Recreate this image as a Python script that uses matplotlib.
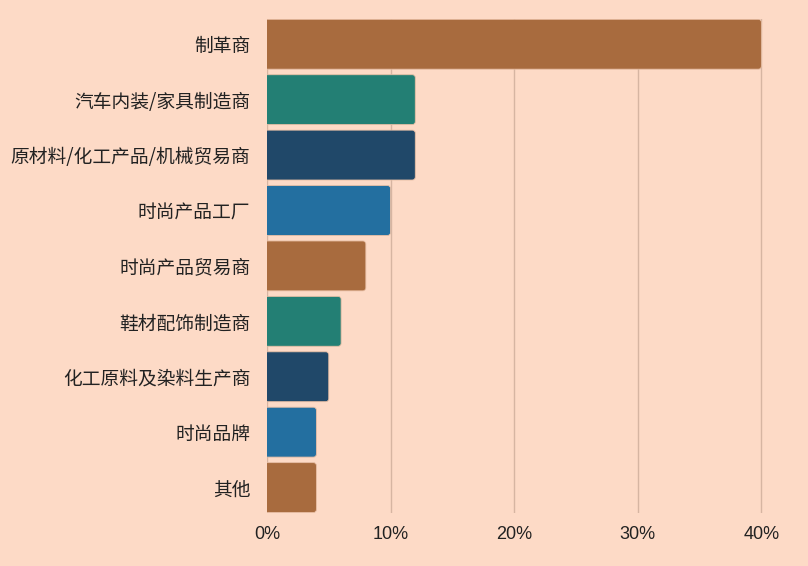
import matplotlib as mpl
mpl.use("Agg")
import numpy as np
from matplotlib import pyplot as plt
from matplotlib.patches import FancyBboxPatch
from matplotlib.ticker import FuncFormatter

plt.rcParams['font.family'] = ['Noto Sans CJK SC', 'DejaVu Sans']

categories = ['制革商', '汽车内装/家具制造商', '原材料/化工产品/机械贸易商', '时尚产品工厂',
              '时尚产品贸易商', '鞋材配饰制造商', '化工原料及染料生产商', '时尚品牌', '其他']
shares = [40, 12, 12, 10, 8, 6, 5, 4, 4]
palette = ['#A86B3E', '#237F74', '#204869', '#236FA0']

bg = '#FDDAC6'
fig = plt.figure(figsize=(8.08, 5.66), dpi=100, facecolor=bg)
ax = fig.add_axes([0.3304, 0.0945, 0.6425, 0.8714], facecolor=bg)

bar_h = 0.9
ax.set_ylim(len(categories) - 0.5 - (1 - bar_h) / 2, -0.5 + (1 - bar_h) / 2)
ax.set_xlim(0, 42)

# rounded bars: radius ~3px, y scaled to keep corners circular
x_px = ax.get_window_extent().width / 42
y_px = ax.get_window_extent().height / (len(categories) - (1 - bar_h))
r = 3 / x_px
for i, v in enumerate(shares):
    p = FancyBboxPatch((-r, i - bar_h / 2), v + r, bar_h,
                       boxstyle=f"round,pad=0,rounding_size={r}",
                       mutation_aspect=x_px / y_px,
                       facecolor=palette[i % 4], edgecolor='#E8BFA5',
                       linewidth=0.6, zorder=2)
    ax.add_patch(p)

ax.set_yticks(np.arange(len(categories)))
ax.set_yticklabels(categories, fontsize=13.5, color='#222222')
ax.set_xticks([0, 10, 20, 30, 40])
ax.xaxis.set_major_formatter(FuncFormatter(lambda v, p: f'{v:.0f}%'))
for t in ax.get_xticklabels():
    t.set_family(['Liberation Sans', 'DejaVu Sans'])
ax.tick_params(axis='x', labelsize=13, colors='#222222', length=0, pad=10)
ax.tick_params(axis='y', length=0, pad=12)
ax.grid(axis='x', color='#D6B5A2', linewidth=1, zorder=0)
for s in ax.spines.values():
    s.set_visible(False)

fig.savefig('out.png', dpi=100, facecolor=bg)
